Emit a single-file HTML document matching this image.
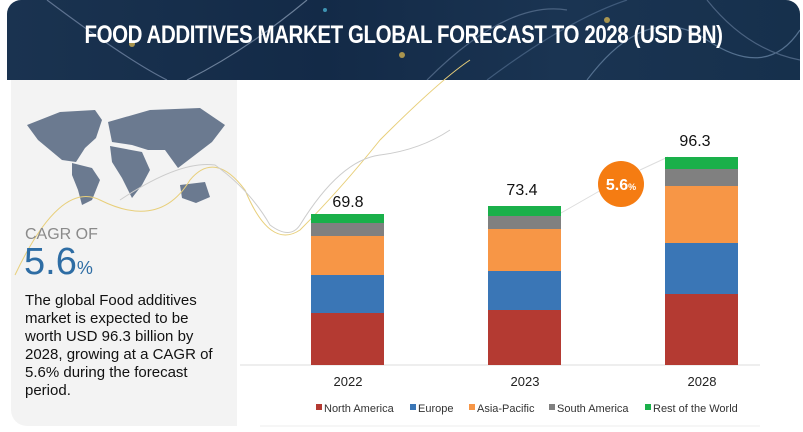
<!DOCTYPE html>
<html><head><style>
body{margin:0;width:803px;height:432px;background:#fff;position:relative;overflow:hidden;font-family:"Liberation Sans",sans-serif}
.hdr{position:absolute;left:7px;top:0;width:793px;height:80px;border-radius:14px 14px 0 0;background:linear-gradient(90deg,#1a3350,#132a47 40%,#1a3452 70%,#16304c);overflow:hidden}
.hdr h1{margin:0;position:absolute;top:21px;left:0;width:100%;text-align:center;color:#fff;font-size:25px;font-weight:bold;transform:scaleX(.82);letter-spacing:-0.5px}
.left{position:absolute;left:11px;top:80px;width:226px;height:346px;background:#f3f3f3;border-radius:0 0 0 16px}
.t{position:absolute;color:#111}
</style></head><body>
<div class="hdr">
<svg width="793" height="80" style="position:absolute;left:0;top:0">
<g fill="none" stroke-width="1.2">
<path d="M40 0 Q120 60 160 80" stroke="#5d7290"/>
<path d="M300 0 Q240 50 180 80" stroke="#6b7f99"/>
<path d="M420 80 Q500 0 560 10" stroke="#4a6280"/>
<path d="M580 80 Q640 0 700 40 T793 30" stroke="#54708f"/>
<path d="M480 80 Q560 20 620 0" stroke="#3f5a7a"/>
<path d="M700 0 Q740 50 793 60" stroke="#4a6280"/>
</g>
<circle cx="125" cy="44" r="3" fill="#e8c050" opacity=".7"/>
<circle cx="395" cy="55" r="3" fill="#e8c050" opacity=".7"/>
<circle cx="600" cy="20" r="3" fill="#e8c050" opacity=".7"/>
<circle cx="318" cy="10" r="2" fill="#50c0e0" opacity=".7"/>
</svg>
<h1>FOOD ADDITIVES MARKET GLOBAL FORECAST TO 2028 (USD BN)</h1>
</div>
<div class="left"></div>
<svg width="803" height="432" style="position:absolute;left:0;top:0">
<g fill="#6b7a90">
<path d="M27 125 L60 112 L95 110 L102 120 L96 138 L85 148 L76 162 L62 160 L50 150 L38 140 Z"/>
<path d="M72 163 L92 168 L100 180 L92 200 L82 205 L78 190 L72 175 Z"/>
<path d="M108 122 L150 110 L200 108 L225 125 L212 142 L195 155 L178 168 L165 150 L148 150 L132 145 L112 142 Z"/>
<path d="M110 146 L142 152 L150 170 L142 185 L132 198 L122 178 L112 162 Z"/>
<path d="M180 185 L205 182 L210 197 L196 203 L182 198 Z"/>
</g>
<g fill="none" stroke-width="1">
<path d="M15 275 Q60 180 100 200 Q160 230 190 180 Q215 150 245 190 Q270 250 300 230 Q340 190 380 140 Q440 80 470 60" stroke="#e8cf7a"/>
<path d="M120 200 Q180 160 215 165 Q250 190 270 225 Q290 240 300 225 Q340 160 380 155 Q420 150 450 130" stroke="#ccc"/>
<path d="M561 213 L610 185 M640 170 L668 157" stroke="#ddd"/>
</g>
<line x1="240" y1="365" x2="760" y2="365" stroke="#ddd"/>
<line x1="260" y1="426" x2="760" y2="426" stroke="#eee"/>
<g>
<rect x="311" y="313" width="73" height="52" fill="#b43a32"/>
<rect x="311" y="275" width="73" height="38" fill="#3a76b6"/>
<rect x="311" y="236" width="73" height="39" fill="#f79646"/>
<rect x="311" y="223" width="73" height="13" fill="#808080"/>
<rect x="311" y="214" width="73" height="9" fill="#1ab04a"/>
<rect x="488" y="310" width="73" height="55" fill="#b43a32"/>
<rect x="488" y="271" width="73" height="39" fill="#3a76b6"/>
<rect x="488" y="229" width="73" height="42" fill="#f79646"/>
<rect x="488" y="216" width="73" height="13" fill="#808080"/>
<rect x="488" y="206" width="73" height="10" fill="#1ab04a"/>
<rect x="665" y="294" width="73" height="71" fill="#b43a32"/>
<rect x="665" y="243" width="73" height="51" fill="#3a76b6"/>
<rect x="665" y="186" width="73" height="57" fill="#f79646"/>
<rect x="665" y="169" width="73" height="17" fill="#808080"/>
<rect x="665" y="157" width="73" height="12" fill="#1ab04a"/>
</g>
<circle cx="621" cy="184" r="23" fill="#f57c12"/>
<text x="621" y="190" text-anchor="middle" fill="#fff" font-weight="bold" font-size="16" font-family="Liberation Sans">5.6<tspan font-size="9">%</tspan></text>
<g font-family="Liberation Sans" font-size="16" fill="#111" text-anchor="middle">
<text x="348" y="207">69.8</text><text x="522" y="195">73.4</text><text x="695" y="146">96.3</text>
</g>
<g font-family="Liberation Sans" font-size="13" fill="#222" text-anchor="middle">
<text x="348" y="386">2022</text><text x="525" y="386">2023</text><text x="702" y="386">2028</text>
</g>
<g font-family="Liberation Sans" font-size="11" fill="#333">
<rect x="316" y="404" width="6" height="6" fill="#b43a32"/><text x="324" y="412">North America</text>
<rect x="410" y="404" width="6" height="6" fill="#3a76b6"/><text x="418" y="412">Europe</text>
<rect x="469" y="404" width="6" height="6" fill="#f79646"/><text x="477" y="412">Asia-Pacific</text>
<rect x="549" y="404" width="6" height="6" fill="#808080"/><text x="557" y="412">South America</text>
<rect x="645" y="404" width="6" height="6" fill="#1ab04a"/><text x="653" y="412">Rest of the World</text>
</g>
</svg>
<div class="t" style="left:25px;top:226px;font-size:16px;color:#8a8a8a">CAGR OF</div>
<div class="t" style="left:24px;top:244px;font-size:38px;color:#2e6da4;line-height:36px">5.6<span style="font-size:18px">%</span></div>
<div class="t" style="left:25px;top:292px;font-size:15px;line-height:18px;width:215px;color:#111;white-space:nowrap">The global Food additives<br>market is expected to be<br>worth USD 96.3 billion by<br>2028, growing at a CAGR of<br>5.6% during the forecast<br>period.</div>
</body></html>
